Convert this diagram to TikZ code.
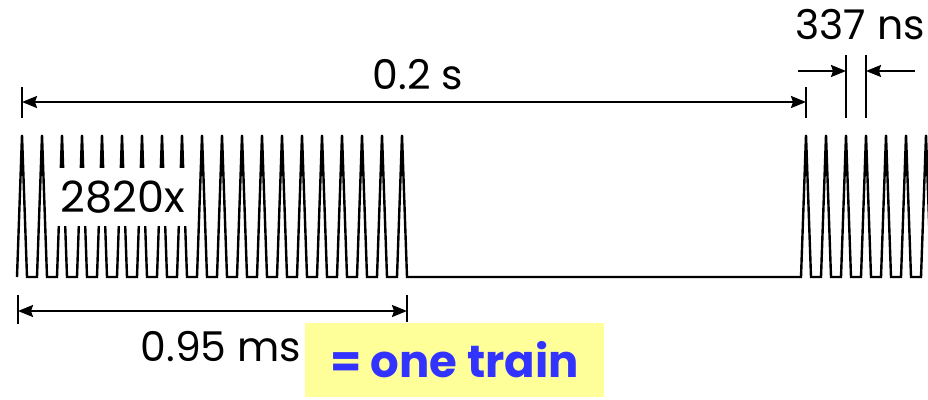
\documentclass[tikz,border=0pt]{standalone}
\usepackage{fontspec}
\setmainfont{Poppins}
\usetikzlibrary{arrows.meta}

\definecolor{trainblue}{RGB}{51,51,255}
\definecolor{trainyellow}{RGB}{255,255,153}

\begin{document}
\begin{tikzpicture}[
  x=1pt, y=-1pt,
  pulse/.style={line width=2.4pt},
  tickln/.style={line width=2pt},
  dim/.style={line width=2pt,
              {Stealth[length=15pt,width=12pt,inset=2pt]}-{Stealth[length=15pt,width=12pt,inset=2pt]}},
  dimin/.style={line width=2pt, -{Stealth[length=15pt,width=12pt,inset=2pt]}},
  lbl/.style={font=\fontsize{41}{48}\selectfont, inner sep=0pt},
  cover/.style={font=\fontsize{43}{48}\selectfont, fill=white, inner sep=0pt,
                minimum width=140pt, minimum height=58pt},
  note/.style={font=\bfseries\fontsize{45}{52}\selectfont, text=trainblue,
               fill=trainyellow, inner sep=0pt,
               minimum width=299pt, minimum height=74pt},
]
  \useasboundingbox (0,0) rectangle (928,399);
  \clip (0,0) rectangle (928,399);

  % --- pulse train, then the gap, then the next train ---
  \draw[pulse] (17,277)
    \foreach \k in {0,...,19} { -- ({17+20*\k},277) -- ({22+20*\k},135) -- ({27+20*\k},277) }
    -- (801,277)
    \foreach \k in {0,...,6} { -- ({801+20*\k},277) -- ({806+20*\k},135) -- ({811+20*\k},277) };

  % count of pulses (hides part of the train)
  \node[cover] (count) at (123,197) {2820x};

  % --- repetition period ---
  \coordinate (perL) at (22,102);
  \coordinate (perR) at (806,102);
  \draw[tickln] (22,87) -- (22,118);
  \draw[tickln] (806,87) -- (806,118);
  \draw[dim] (perL) -- (perR);
  \node[lbl] (period) at (418,75) {0.2 s};

  % --- pulse spacing ---
  \coordinate (gapL) at (846,71);
  \coordinate (gapR) at (866,71);
  \coordinate (gapLa) at (798,71);
  \coordinate (gapRa) at (915,71);
  \draw[tickln] (846,55) -- (846,118);
  \draw[tickln] (866,55) -- (866,118);
  \draw[dimin] (gapLa) -- (gapL);
  \draw[dimin] (gapRa) -- (gapR);
  \node[lbl] (spacing) at (860,25) {337 ns};

  % --- train length ---
  \coordinate (trnL) at (18,311);
  \coordinate (trnR) at (407,311);
  \draw[tickln] (18,295) -- (18,324);
  \draw[tickln] (407,295) -- (407,322);
  \draw[dim] (trnL) -- (trnR);
  \node[lbl] (length) at (221,347) {0.95 ms};
  \node[note] (train) at (454.5,360) {= one train};
\end{tikzpicture}
\end{document}
